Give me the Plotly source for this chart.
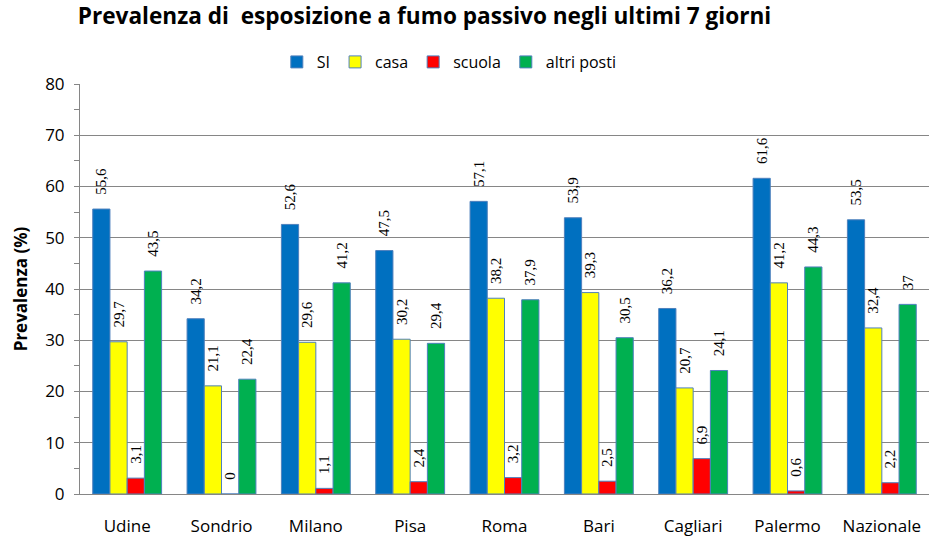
import plotly.graph_objects as go

categories = ["Udine", "Sondrio", "Milano", "Pisa", "Roma", "Bari", "Cagliari", "Palermo", "Nazionale"]
si = [55.6, 34.2, 52.6, 47.5, 57.1, 53.9, 36.2, 61.6, 53.5]
casa = [29.7, 21.1, 29.6, 30.2, 38.2, 39.3, 20.7, 41.2, 32.4]
scuola = [3.1, 0, 1.1, 2.4, 3.2, 2.5, 6.9, 0.6, 2.2]
altri = [43.5, 22.4, 41.2, 29.4, 37.9, 30.5, 24.1, 44.3, 37]

series = [
    ("SI", si, "#0070C0"),
    ("casa", casa, "#FFFF00"),
    ("scuola", scuola, "#FF0000"),
    ("altri posti", altri, "#00B050"),
]

def fmt(v):
    return "\u00a0\u00a0\u00a0" + f"{v:g}".replace(".", ",")

FONT = "Open Sans"

fig = go.Figure()
for name, vals, col in series:
    fig.add_trace(go.Bar(
        x=categories, y=vals, name=name,
        marker=dict(color=col, line=dict(color="#4F81BD", width=1)),
        text=[fmt(v) for v in vals],
        textposition="outside", textangle=-90, constraintext="none",
        textfont=dict(family="Liberation Serif", size=15, color="black"),
        cliponaxis=False,
    ))

fig.update_layout(
    width=933, height=537,
    margin=dict(l=80, r=4, t=84, b=43),
    paper_bgcolor="white", plot_bgcolor="white",
    barmode="group", bargap=0.27, bargroupgap=0,
    title=dict(text="<b>Prevalenza di  esposizione a fumo passivo negli ultimi 7 giorni</b>",
               x=0.455, xanchor="center", xref="container",
               y=1 - 16 / 537, yanchor="middle", yref="container",
               font=dict(family=FONT, size=22.6, color="black")),
    legend=dict(orientation="h", x=0.435, xanchor="center", xref="paper",
                y=1 - 62 / 537, yanchor="middle", yref="container",
                font=dict(family=FONT, size=16, color="black"),
                itemwidth=30, tracegroupgap=0),
    showlegend=True,
)

fig.update_yaxes(
    range=[0, 80], dtick=10, showgrid=True, gridcolor="#868686", gridwidth=1,
    showline=True, linecolor="#868686", linewidth=1,
    ticks="outside", ticklen=5, tickcolor="#868686",
    minor=dict(dtick=5, ticks="outside", ticklen=5, tickcolor="#868686", showgrid=False),
    tickfont=dict(family=FONT, size=17, color="black"),
    ticklabelstandoff=6,
    title=dict(text="<b>Prevalenza (%)</b>", font=dict(family=FONT, size=17, color="black"), standoff=13),
    zeroline=False, automargin=False,
)
fig.update_xaxes(
    showline=True, linecolor="#868686", linewidth=1,
    tickfont=dict(family=FONT, size=17, color="black"),
    ticklabelstandoff=17, automargin=False,
)

fig.write_html("out.html", config={"displayModeBar": False},
               post_script="document.body.style.margin='0';document.body.style.padding='0';")
